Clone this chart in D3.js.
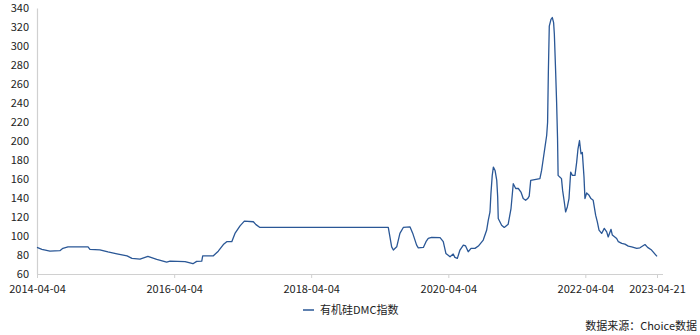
<!DOCTYPE html>
<html>
<head>
<meta charset="utf-8">
<script src="https://cdn.jsdelivr.net/npm/d3@7/dist/d3.min.js"></script>
<style>
  html, body { margin: 0; padding: 0; background: #ffffff; }
  svg { display: block; }
  text { font-family: "Noto Sans CJK SC", "Noto Sans", sans-serif; fill: #222; }
</style>
</head>
<body>
<svg id="chart" width="700" height="335"></svg>
<script>
// ---- data ----
const seriesName = "有机硅DMC指数";
const sourceNote = "数据来源：Choice数据";
const dates = [
  "2014-04-04","2014-04-30","2014-06-12","2014-08-04","2014-08-20","2014-09-16","2015-01-01","2015-01-11","2015-03-05",
  "2015-04-17","2015-06-04","2015-07-28","2015-08-23","2015-10-05","2015-11-16","2016-01-02","2016-02-24","2016-03-13",
  "2016-06-01","2016-07-13","2016-08-02","2016-08-29","2016-09-03","2016-10-30","2016-11-25","2016-12-22","2017-01-09",
  "2017-02-05","2017-02-22","2017-03-21","2017-04-13","2017-05-31","2017-06-14","2017-07-05","2019-05-20","2019-06-07",
  "2019-06-16","2019-07-04","2019-07-21","2019-08-08","2019-09-13","2019-09-27","2019-10-18","2019-10-27","2019-11-23",
  "2019-12-07","2019-12-19","2020-01-06","2020-02-20","2020-03-08","2020-03-22","2020-04-13","2020-04-30","2020-05-09",
  "2020-05-22","2020-06-05","2020-06-23","2020-07-05","2020-07-19","2020-08-03","2020-08-24","2020-09-11","2020-10-07",
  "2020-10-25","2020-11-03","2020-11-12","2020-11-17","2020-11-24","2020-11-30","2020-12-09","2020-12-18","2020-12-23",
  "2020-12-26","2021-01-13","2021-01-27","2021-02-17","2021-03-04","2021-03-16","2021-03-29","2021-04-12","2021-04-26",
  "2021-05-08","2021-05-21","2021-06-01","2021-06-09","2021-06-17","2021-08-05","2021-08-14","2021-08-23","2021-09-01",
  "2021-09-10","2021-09-15","2021-09-19","2021-09-24","2021-10-03","2021-10-10","2021-10-17","2021-10-21","2021-10-28",
  "2021-11-02","2021-11-07","2021-11-10","2021-11-19","2021-11-28","2021-12-04","2021-12-13","2021-12-20","2021-12-29",
  "2022-01-07","2022-01-16","2022-01-25","2022-02-08","2022-02-17","2022-02-24","2022-03-04","2022-03-12","2022-03-19",
  "2022-03-28","2022-04-02","2022-04-11","2022-04-24","2022-05-04","2022-05-16","2022-05-29","2022-06-07","2022-06-16",
  "2022-06-30","2022-07-14","2022-07-27","2022-08-04","2022-08-19","2022-08-26","2022-09-18","2022-09-27","2022-10-15",
  "2022-11-01","2022-11-19","2022-12-07","2023-01-03","2023-01-20","2023-02-16","2023-03-02","2023-03-23","2023-04-21"
];
const values = [
  88,86,84,84.5,87,88.6,88.6,86,85.5,
  83.4,81.3,79,76.4,75.7,78.5,75.4,72.6,73.6,
  73,70.8,73.3,73.6,79,79.2,84,91,94,
  94,102.7,110.7,115.6,115,112,109,109,88.6,
  85.2,88.6,102.7,109,109.6,103,90.4,87.6,88,
  94,97.4,98.5,98.2,94,81.7,78.2,81,77.5,
  76.4,85.2,90.4,89.5,83.4,87,87,89.4,95.7,
  106,116.6,125.3,144.6,163.8,172.5,169,158.6,141,
  118.4,111.4,109,112.4,128.9,155,150,150,146.3,
  139.4,137.6,139.4,142,158.6,160.4,169,181.3,193.5,
  205.8,219.7,272,321,328,330,324.6,312.4,272,
  240.7,202.3,163.8,162,160.4,148,135.8,125.3,130.6,
  139.4,167.3,163.8,163.8,177.8,191.8,200.5,186.6,188,
  162,139.4,145.3,142.8,139.4,137.6,121.9,114.8,106.1,
  102.7,108,104.4,99,107,101,97.4,94,92.2,
  91.5,89.4,88.6,87,87.6,91,88,85.2,78.5
];
const yTicks = [60,80,100,120,140,160,180,200,220,240,260,280,300,320,340];
const xTickLabels = ["2014-04-04","2016-04-04","2018-04-04","2020-04-04","2022-04-04","2023-04-21"];

// ---- chart ----
const parse = d3.timeParse("%Y-%m-%d");
const data = dates.map((d, i) => ({ date: parse(d), value: values[i] }));

const svg = d3.select("#chart");
const x = d3.scaleTime()
  .domain([parse("2014-04-04"), parse("2023-04-21")])
  .range([37, 657]);
const y = d3.scaleLinear().domain([60, 340]).range([274, 8]);

const axisColor = "#d0d0d0";
const fontSize = 11;

// y axis
const yAxis = svg.append("g").attr("transform", "translate(37,0)")
  .call(d3.axisLeft(y).tickValues(yTicks).tickSize(0).tickPadding(8));
yAxis.select(".domain").attr("stroke", axisColor).attr("stroke-width", 1.2);
yAxis.selectAll("text").attr("font-size", fontSize).attr("fill", "#222").attr("dy", "0.32em")
  .style("font-family", "'Noto Sans CJK SC', sans-serif");

// x axis
const xAxis = svg.append("g").attr("transform", "translate(0,274)")
  .call(d3.axisBottom(x).tickValues(xTickLabels.map(parse))
    .tickFormat(d3.timeFormat("%Y-%m-%d")).tickSize(4).tickPadding(7));
xAxis.select(".domain").remove();
xAxis.append("line").attr("x1", 37).attr("x2", 663).attr("y1", 0.5).attr("y2", 0.5)
  .attr("stroke", axisColor).attr("stroke-width", 1.2);
xAxis.selectAll(".tick line").attr("stroke", axisColor);
xAxis.selectAll("text").attr("font-size", fontSize).attr("fill", "#222")
  .style("font-family", "'Noto Sans CJK SC', sans-serif");

// line
const line = d3.line().x(d => x(d.date)).y(d => y(d.value));
svg.append("path").datum(data)
  .attr("fill", "none")
  .attr("stroke", "#2a5796")
  .attr("stroke-width", 1.3)
  .attr("stroke-linejoin", "round")
  .attr("d", line);

// legend
const lg = svg.append("g").attr("transform", "translate(303,310)");
lg.append("line").attr("x1", 0).attr("x2", 11).attr("y1", 0).attr("y2", 0)
  .attr("stroke", "#2a5796").attr("stroke-width", 1.5);
lg.append("text").attr("x", 17).attr("y", 0).attr("dy", "0.35em")
  .attr("font-size", fontSize).text(seriesName);

// source
svg.append("text").attr("x", 697).attr("y", 326).attr("dy", "0.35em")
  .attr("text-anchor", "end").attr("font-size", fontSize).text(sourceNote);
</script>
</body>
</html>
